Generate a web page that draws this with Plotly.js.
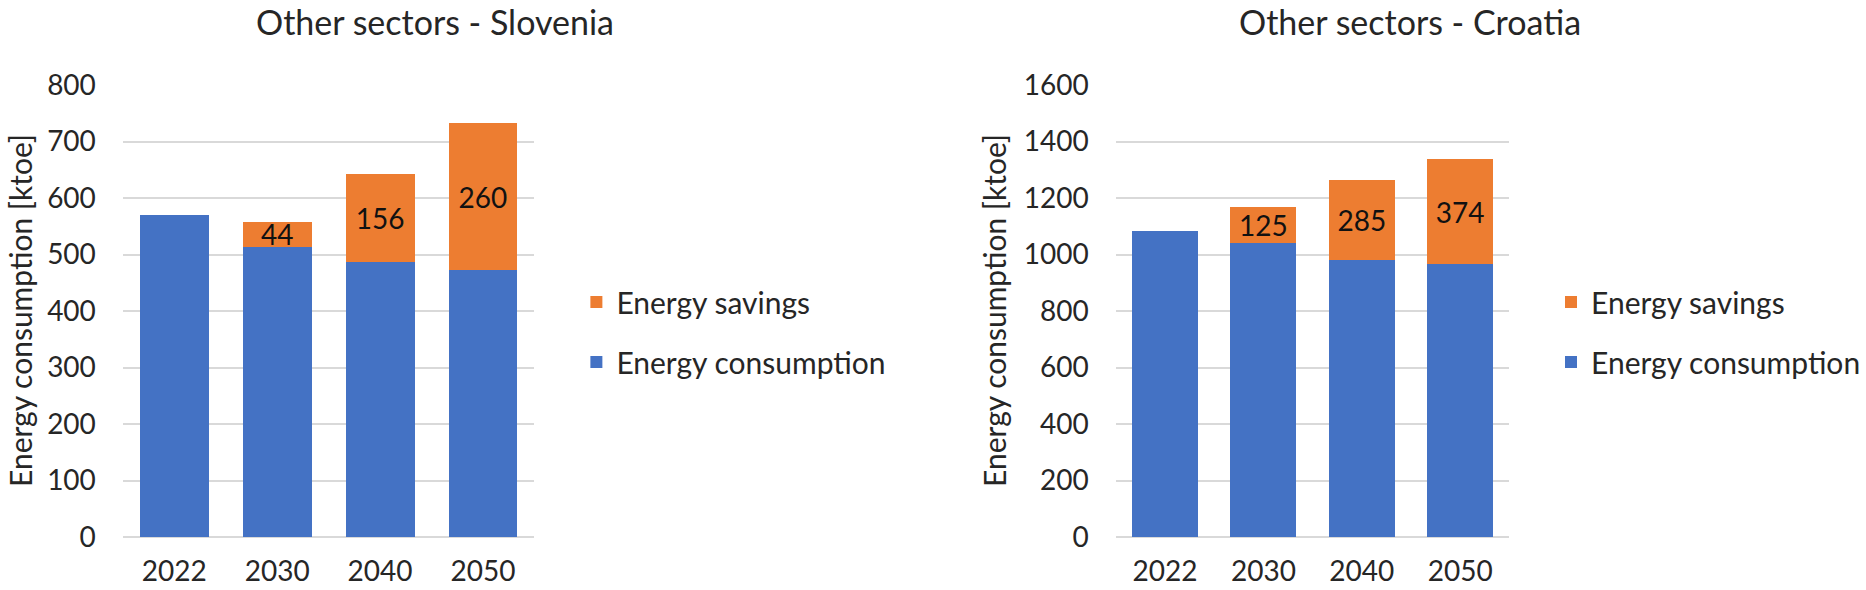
<!DOCTYPE html>
<html>
<head>
<meta charset="utf-8">
<script src="https://cdn.plot.ly/plotly-3.0.1.min.js"></script>
<style>html,body{margin:0;padding:0;background:#fff;}#chart{width:1866px;height:590px;}</style>
</head>
<body>
<div id="chart"></div>
<script>
const years = ['2022', '2030', '2040', '2050'];
const sloConsumption = [570, 514, 486, 472];
const sloSavings = [null, 44, 156, 260];
const croConsumption = [1084, 1042, 979, 965];
const croSavings = [null, 125, 285, 374];
const sloTicks = [0, 100, 200, 300, 400, 500, 600, 700, 800];
const croTicks = [0, 200, 400, 600, 800, 1000, 1200, 1400, 1600];

const FONT = 'Lato, "Open Sans", sans-serif';
const TXT = '#262626';
const BLUE = '#4472C4';
const ORANGE = '#ED7D31';
const W = 1866, H = 590;
const px = v => v / W;
const py = v => (H - v) / H;

const labelText = arr => arr.map(v => v == null ? '' : String(v));

const traces = [
  {type: 'bar', x: years, y: sloConsumption, name: 'Energy consumption', marker: {color: BLUE},
   xaxis: 'x', yaxis: 'y', legend: 'legend', legendgroup: 'c1', legendrank: 2, hoverinfo: 'skip'},
  {type: 'bar', x: years, y: sloSavings, name: 'Energy savings', marker: {color: ORANGE},
   text: labelText(sloSavings), textposition: 'inside', insidetextanchor: 'middle', constraintext: 'none',
   textfont: {family: FONT, size: 28, color: '#111'}, textangle: 0,
   xaxis: 'x', yaxis: 'y', legend: 'legend', legendgroup: 's1', legendrank: 1, hoverinfo: 'skip'},
  {type: 'bar', x: years, y: croConsumption, name: 'Energy consumption', marker: {color: BLUE},
   xaxis: 'x2', yaxis: 'y2', legend: 'legend2', legendgroup: 'c2', legendrank: 2, hoverinfo: 'skip'},
  {type: 'bar', x: years, y: croSavings, name: 'Energy savings', marker: {color: ORANGE},
   text: labelText(croSavings), textposition: 'inside', insidetextanchor: 'middle', constraintext: 'none',
   textfont: {family: FONT, size: 28, color: '#111'}, textangle: 0,
   xaxis: 'x2', yaxis: 'y2', legend: 'legend2', legendgroup: 's2', legendrank: 1, hoverinfo: 'skip'}
];

const xCommon = {type: 'category', showgrid: false, zeroline: false, showline: false, ticks: '',
  tickfont: {family: FONT, size: 28, color: TXT}, ticklabelstandoff: 15, fixedrange: true};
const yCommon = {showgrid: true, gridcolor: '#d9d9d9', gridwidth: 2, zeroline: true, zerolinecolor: '#d9d9d9',
  zerolinewidth: 2, showline: false, ticks: '', tickfont: {family: FONT, size: 28, color: TXT},
  ticklabelstandoff: 26, tickmode: 'array', domain: [py(537), py(85)], fixedrange: true};

const legCommon = {font: {family: FONT, size: 30, color: TXT}, traceorder: 'grouped',
  tracegroupgap: 18, bgcolor: 'rgba(0,0,0,0)', xanchor: 'left', yanchor: 'top', y: py(276)};

const layout = {
  width: W, height: H, margin: {l: 0, r: 0, t: 0, b: 0},
  paper_bgcolor: '#fff', plot_bgcolor: '#fff',
  barmode: 'stack', bargap: 0.33, showlegend: true,
  xaxis: Object.assign({}, xCommon, {domain: [px(123), px(535)], anchor: 'y'}),
  yaxis: Object.assign({}, yCommon, {range: [0, 800], tickvals: sloTicks, anchor: 'x'}),
  xaxis2: Object.assign({}, xCommon, {domain: [px(1117), px(1511)], anchor: 'y2'}),
  yaxis2: Object.assign({}, yCommon, {range: [0, 1600], tickvals: croTicks, anchor: 'x2'}),
  legend: Object.assign({}, legCommon, {x: px(577)}),
  legend2: Object.assign({}, legCommon, {x: px(1553)}),
  annotations: [
    {text: 'Other sectors - Slovenia', xref: 'paper', yref: 'paper', x: px(435), y: 1,
     xanchor: 'center', yanchor: 'top', showarrow: false, borderpad: 0, font: {family: FONT, size: 34, color: TXT}},
    {text: 'Other sectors - Croatia', xref: 'paper', yref: 'paper', x: px(1412), y: 1,
     xanchor: 'center', yanchor: 'top', showarrow: false, borderpad: 0, font: {family: FONT, size: 34, color: TXT}},
    {text: 'Energy consumption [ktoe]', xref: 'paper', yref: 'paper', x: px(20), y: py(310),
     xanchor: 'center', yanchor: 'middle', textangle: -90, showarrow: false, font: {family: FONT, size: 30, color: TXT}},
    {text: 'Energy consumption [ktoe]', xref: 'paper', yref: 'paper', x: px(995), y: py(310),
     xanchor: 'center', yanchor: 'middle', textangle: -90, showarrow: false, font: {family: FONT, size: 30, color: TXT}}
  ]
};

Plotly.newPlot('chart', traces, layout, {displayModeBar: false, staticPlot: true});
</script>
</body>
</html>
